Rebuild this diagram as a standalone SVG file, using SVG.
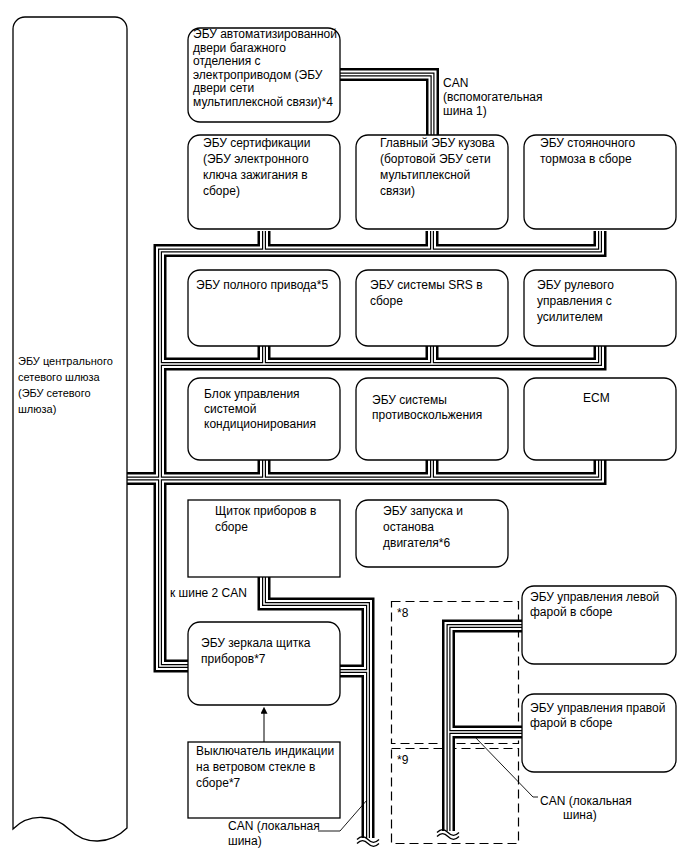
<svg xmlns="http://www.w3.org/2000/svg" xmlns:xlink="http://www.w3.org/1999/xlink" width="688" height="852" viewBox="0 0 688 852">
<style>
.box{fill:#fff;stroke:#000;stroke-width:1.3}
.t{font-family:"Liberation Sans",Arial,sans-serif;font-size:12px;fill:#000}
.gt{font-family:"Liberation Sans",Arial,sans-serif;font-size:11px;fill:#000}
.b1{fill:none;stroke:#000;stroke-width:13;stroke-linejoin:miter}
.b2{fill:none;stroke:#fff;stroke-width:8;stroke-linejoin:miter}
.b3{fill:none;stroke:#000;stroke-width:4;stroke-linejoin:miter}
.b4{fill:none;stroke:#fff;stroke-width:1.6;stroke-linejoin:miter}
.dash{fill:none;stroke:#000;stroke-width:1.2;stroke-dasharray:9 5}
.thin{fill:none;stroke:#000;stroke-width:1}
.lead{fill:none;stroke:#000;stroke-width:0.9}
.wave{fill:none;stroke:#000;stroke-width:1.3}
</style>
<defs>
<marker id="arr" viewBox="0 0 10 10" refX="1" refY="5" markerWidth="7" markerHeight="7" markerUnits="userSpaceOnUse" orient="auto">
<path d="M0,0 L10,5 L0,10 z" fill="#000"/>
</marker>
<path id="bus" d="M339 74.5 H432.5 V136 M600 231 V250.5 H160 V666 H190 M264 231 V250.5 M432 231 V250.5 M160 364 H600 V344 M264 344 V364 M432 344 V364 M127 478.5 H600 V458 M264 458 V478.5 M432 458 V478.5 M264 576 V604 H368 V838 M339 671 H368 M523 626 H448.5 V831 M448.5 732 H523"/>
</defs>
<g id="dashed-areas">
<rect class="dash" x="391.5" y="601.5" width="127" height="142"/>
<rect class="dash" x="391.5" y="748.5" width="127" height="95"/>
<text class="t" x="397" y="617">*8</text>
<text class="t" x="397" y="764">*9</text>
</g>
<g id="connectors">
<use xlink:href="#bus" class="b1"/>
<use xlink:href="#bus" class="b2"/>
<use xlink:href="#bus" class="b3"/>
<use xlink:href="#bus" class="b4"/>
<path class="wave" d="M357 839.5 c4 -4 7 -4 11 0 s7 4 11 0 M357 843.5 c4 -4 7 -4 11 0 s7 4 11 0"/>
<path class="wave" d="M437 832.5 c4 -4 7 -4 11 0 s7 4 11 0 M437 836.5 c4 -4 7 -4 11 0 s7 4 11 0"/>
<path class="thin" d="M264 742 V713" marker-end="url(#arr)"/>
<path class="lead" d="M318 831 H340 L367 800"/>
<path class="lead" d="M474 736 L533 797 H538"/>
</g>
<g id="gateway">
<path class="box" d="M13 829 V29 A12 12 0 0 1 25 17 H115 A12 12 0 0 1 127 29 V828 C110 845 85 845 70 830 C55 815 30 812 13 829 Z"/>
<text class="gt" x="18" y="365">ЭБУ центрального</text>
<text class="gt" x="18" y="381">сетевого шлюза</text>
<text class="gt" x="18" y="397">(ЭБУ сетевого</text>
<text class="gt" x="18" y="413">шлюза)</text>
</g>
<g id="trunk-door-ecu">
<rect class="box" x="188" y="28" width="152" height="94" rx="12"/>
<text class="t" x="193" y="38">ЭБУ автоматизированной</text>
<text class="t" x="193" y="51.6">двери багажного</text>
<text class="t" x="193" y="65.2">отделения с</text>
<text class="t" x="193" y="78.8">электроприводом (ЭБУ</text>
<text class="t" x="193" y="92.4">двери сети</text>
<text class="t" x="193" y="106">мультиплексной связи)*4</text>
</g>
<g id="can-sub-label">
<text class="t" x="443" y="87">CAN</text>
<text class="t" x="443" y="101">(вспомогательная</text>
<text class="t" x="443" y="115">шина 1)</text>
</g>
<g id="certification-ecu">
<rect class="box" x="188" y="135" width="152" height="94" rx="12"/>
<text class="t" x="203" y="147">ЭБУ сертификации</text>
<text class="t" x="203" y="163">(ЭБУ электронного</text>
<text class="t" x="203" y="179">ключа зажигания в</text>
<text class="t" x="203" y="195">сборе)</text>
</g>
<g id="main-body-ecu">
<rect class="box" x="356" y="135" width="152" height="94" rx="12"/>
<text class="t" x="380" y="147">Главный ЭБУ кузова</text>
<text class="t" x="380" y="163">(бортовой ЭБУ сети</text>
<text class="t" x="380" y="179">мультиплексной</text>
<text class="t" x="380" y="195">связи)</text>
</g>
<g id="parking-brake-ecu">
<rect class="box" x="524" y="135" width="152" height="94" rx="12"/>
<text class="t" x="540" y="147">ЭБУ стояночного</text>
<text class="t" x="540" y="163">тормоза в сборе</text>
</g>
<g id="awd-ecu">
<rect class="box" x="188" y="270" width="152" height="76" rx="12"/>
<text class="t" x="196" y="289">ЭБУ полного привода*5</text>
</g>
<g id="srs-ecu">
<rect class="box" x="356" y="270" width="152" height="76" rx="12"/>
<text class="t" x="370" y="289">ЭБУ системы SRS в</text>
<text class="t" x="370" y="305">сборе</text>
</g>
<g id="eps-ecu">
<rect class="box" x="524" y="270" width="152" height="76" rx="12"/>
<text class="t" x="537" y="289">ЭБУ рулевого</text>
<text class="t" x="537" y="305">управления с</text>
<text class="t" x="537" y="321">усилителем</text>
</g>
<g id="ac-ecu">
<rect class="box" x="188" y="378" width="152" height="82" rx="12"/>
<text class="t" x="204" y="398">Блок управления</text>
<text class="t" x="204" y="413">системой</text>
<text class="t" x="204" y="428">кондиционирования</text>
</g>
<g id="skid-control-ecu">
<rect class="box" x="356" y="378" width="152" height="82" rx="12"/>
<text class="t" x="372" y="404">ЭБУ системы</text>
<text class="t" x="372" y="419">противоскольжения</text>
</g>
<g id="ecm">
<rect class="box" x="524" y="378" width="152" height="82" rx="12"/>
<text class="t" x="583" y="402">ECM</text>
</g>
<g id="combination-meter">
<rect class="box" x="188" y="500" width="152" height="77"/>
<text class="t" x="215" y="515">Щиток приборов в</text>
<text class="t" x="215" y="531">сборе</text>
</g>
<g id="engine-start-ecu">
<rect class="box" x="356" y="500" width="152" height="67" rx="12"/>
<text class="t" x="383" y="515">ЭБУ запуска и</text>
<text class="t" x="383" y="531">останова</text>
<text class="t" x="383" y="547">двигателя*6</text>
</g>
<g id="bus2-label">
<text class="t" x="170" y="597">к шине 2 CAN</text>
</g>
<g id="mirror-ecu">
<rect class="box" x="188" y="622" width="152" height="83" rx="12"/>
<text class="t" x="201" y="647">ЭБУ зеркала щитка</text>
<text class="t" x="201" y="663">приборов*7</text>
</g>
<g id="hud-switch">
<rect class="box" x="188" y="742" width="152" height="76"/>
<text class="t" x="196" y="755">Выключатель индикации</text>
<text class="t" x="196" y="771">на ветровом стекле в</text>
<text class="t" x="196" y="787">сборе*7</text>
</g>
<g id="headlamp-left-ecu">
<rect class="box" x="522" y="586" width="154" height="78" rx="12"/>
<text class="t" x="530" y="601">ЭБУ управления левой</text>
<text class="t" x="530" y="616">фарой в сборе</text>
</g>
<g id="headlamp-right-ecu">
<rect class="box" x="522" y="694" width="154" height="78" rx="12"/>
<text class="t" x="530" y="712">ЭБУ управления правой</text>
<text class="t" x="530" y="727">фарой в сборе</text>
</g>
<g id="can-local-labels">
<text class="t" x="228" y="830">CAN (локальная</text>
<text class="t" x="228" y="845">шина)</text>
<text class="t" x="540" y="805">CAN (локальная</text>
<text class="t" x="563" y="819">шина)</text>
</g>
</svg>
